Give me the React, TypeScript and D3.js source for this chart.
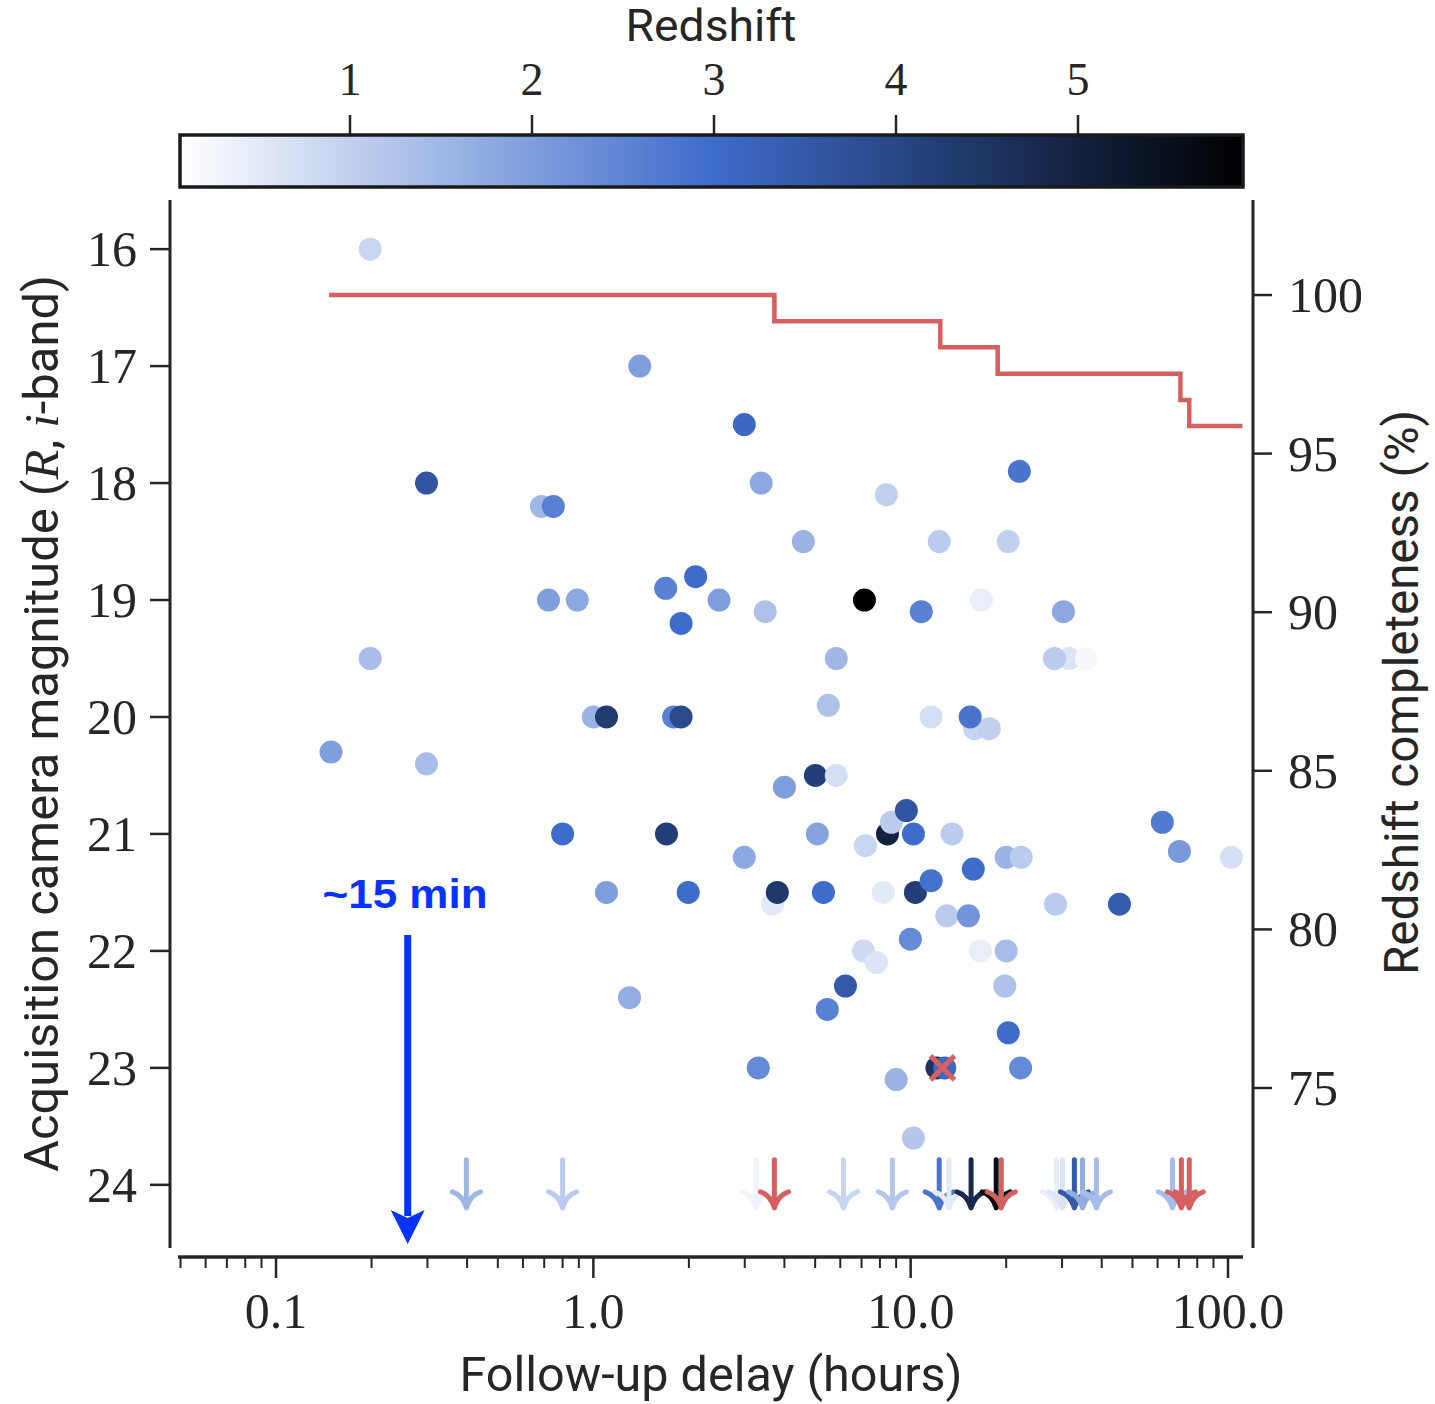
import React from "react";
import * as d3 from "d3";

const W = 1435;
const H = 1404;

// ---- detections: follow-up delay (h), acquisition magnitude, redshift ----
const delays = [
  0.198, 1.40, 2.99, 0.298, 0.686, 0.748, 3.38, 8.38, 22.0, 4.59, 12.3, 20.3,
  0.722, 0.89, 1.69, 2.10, 2.49, 1.89, 3.48, 7.15, 10.8, 16.7, 30.3,
  0.198, 5.83, 31.6, 35.8, 28.4, 5.5,
  1.0, 1.10, 1.79, 1.89, 11.6, 15.9, 17.7, 15.4,
  0.149, 0.298, 5.01, 5.83, 4.0,
  8.45, 8.7, 9.69, 10.2, 0.80, 1.70, 5.08, 13.5, 62.1, 70.3, 102.5,
  2.99, 7.2, 20.0, 22.3,
  1.10, 1.99, 3.67, 3.80, 5.31, 8.2, 10.35, 11.6, 15.75, 28.6, 45.5, 13.0, 15.2,
  9.98, 7.1, 7.8, 16.6, 20.0, 19.8, 6.23, 5.46, 1.30, 20.3,
  3.31, 12.1, 12.8, 22.2, 9.0, 10.2,
];
const mags = [
  16.0, 17.0, 17.5, 18.0, 18.2, 18.2, 18.0, 18.1, 17.9, 18.5, 18.5, 18.5,
  19.0, 19.0, 18.9, 18.8, 19.0, 19.2, 19.1, 19.0, 19.1, 19.0, 19.1,
  19.5, 19.5, 19.5, 19.5, 19.5, 19.9,
  20.0, 20.0, 20.0, 20.0, 20.0, 20.1, 20.1, 20.0,
  20.3, 20.4, 20.5, 20.5, 20.6,
  21.0, 20.9, 20.8, 21.0, 21.0, 21.0, 21.0, 21.0, 20.9, 21.15, 21.2,
  21.2, 21.1, 21.2, 21.2,
  21.5, 21.5, 21.6, 21.5, 21.5, 21.5, 21.5, 21.4, 21.3, 21.6, 21.6, 21.7, 21.7,
  21.9, 22.0, 22.1, 22.0, 22.0, 22.3, 22.3, 22.5, 22.4, 22.7,
  23.0, 23.0, 23.0, 23.0, 23.1, 23.6,
];
const redshifts = [
  0.9, 2.0, 3.1, 3.6, 1.5, 2.6, 1.8, 1.0, 2.8, 1.6, 1.1, 1.0,
  2.0, 1.8, 2.6, 3.0, 2.0, 3.0, 1.3, 5.9, 2.6, 0.4, 1.8,
  1.4, 1.5, 0.6, 0.2, 1.1, 1.3,
  1.6, 4.3, 2.6, 3.9, 0.7, 0.9, 1.0, 2.8,
  2.0, 1.4, 4.2, 0.7, 2.0,
  5.0, 1.1, 3.6, 3.0, 3.0, 4.2, 1.9, 1.1, 2.7, 2.1, 0.7,
  1.8, 0.9, 1.6, 1.1,
  2.0, 3.0, 0.5, 4.4, 3.0, 0.5, 4.2, 2.9, 3.0, 1.1, 3.4, 1.1, 2.2,
  2.4, 0.8, 0.6, 0.4, 1.4, 1.3, 3.5, 2.6, 1.7, 3.0,
  2.4, 4.5, 3.1, 2.4, 1.6, 1.2,
];

// failed detection (red cross)
const failedDelays = [12.6];
const failedMags = [23.0];

// ---- upper limits (fainter than 24 mag) ----
const limitDelays = [
  0.398, 0.80, 3.26, 3.72, 6.14, 8.76, 12.3, 13.2, 15.5, 18.6, 19.3,
  28.8, 30.1, 32.8, 34.8, 38.5, 66.8, 71.3, 75.5,
];
const limitRedshifts = [
  1.5, 1.1, 0.3, 0, 0.9, 1.2, 2.8, 0.5, 4.8, 5.6, 0,
  0.4, 0.6, 3.5, 1.7, 1.4, 1.4, 0, 0,
];
const limitFailed = [
  false, false, false, true, false, false, false, false, false, false, true,
  false, false, false, false, false, false, true, true,
];
const limitMag = 24;

// ---- redshift completeness step line ----
const stepDelays = [0.147, 3.72, 12.4, 18.8, 70.8, 75.5, 111];
const stepCompleteness = [100, 99.17, 98.35, 97.52, 96.69, 95.87, 95.87];

// ---- ticks ----
const xTicks = [0.1, 1, 10, 100];
const xTickLabels = ["0.1", "1.0", "10.0", "100.0"];
const yTicks = [16, 17, 18, 19, 20, 21, 22, 23, 24];
const rightTicks = [100, 95, 90, 85, 80, 75];
const cbTicks = [1, 2, 3, 4, 5];
const zDomain = [0.066, 5.91];

const annotationDelay = 0.26;

const INK = "#262626";
const RED = "#d65f5f";
const BLUE = "#0433ff";
const SERIF = "'Liberation Serif', 'DejaVu Serif', serif";
const SANS = "Roboto, 'Liberation Sans', sans-serif";

export default function App() {
  const x = d3.scaleLog().domain([0.0491, 111.5]).range([178, 1243]);
  const y = d3.scaleLinear().domain([15.58, 24.54]).range([200, 1248]);
  const yR = d3.scaleLinear().domain([100, 75]).range([295, 1088]);
  const cx = d3.scaleLinear().domain([1, 5]).range([350, 1078]);
  const color = d3
    .scaleLinear<string>()
    .domain([zDomain[0], (zDomain[0] + zDomain[1]) / 2, zDomain[1]])
    .range(["#ffffff", "#3e6ccc", "#000000"])
    .interpolate(d3.interpolateRgb)
    .clamp(true);

  const cbRight = 1243;
  const cbScale = d3.scaleLinear().domain(zDomain).range([180, cbRight]);

  const minorTicks: number[] = [];
  for (let e = -2; e <= 2; e++) {
    for (let m = 2; m <= 9; m++) {
      const v = m * Math.pow(10, e);
      if (v >= 0.0491 && v <= 111.5) minorTicks.push(v);
    }
  }

  const stepData = stepDelays.map((d, i) => [d, stepCompleteness[i]] as [number, number]);
  const stepLine = d3
    .line<[number, number]>()
    .x((d) => x(d[0]))
    .y((d) => yR(d[1]))
    .curve(d3.curveStepAfter)(stepData);

  const gradStops = d3.range(0, 1.0001, 0.05).map((t) => ({
    t,
    c: color(zDomain[0] + t * (zDomain[1] - zDomain[0])),
  }));

  const arrowPath = (px: number, py: number) =>
    `M${px},${py - 25} L${px},${py + 22} M${px - 14},${py + 7} Q${px - 4},${py + 10} ${px},${py + 23} M${px + 14},${py + 7} Q${px + 4},${py + 10} ${px},${py + 23}`;

  const ax = x(annotationDelay);

  return (
    <svg width={W} height={H} style={{ display: "block", position: "absolute", left: 0, top: 0, background: "#fff" }}>
      <defs>
        <linearGradient id="cbgrad" x1="0" x2="1" y1="0" y2="0">
          {gradStops.map((s, i) => (
            <stop key={i} offset={s.t} stopColor={s.c} />
          ))}
        </linearGradient>
      </defs>
      <rect x={0} y={0} width={W} height={H} fill="#fff" />

      {/* Colorbar */}
      <text x={711} y={41} textAnchor="middle" fontFamily={SANS} fontSize={44} fill={INK} textLength={171} lengthAdjust="spacingAndGlyphs">
        Redshift
      </text>
      {cbTicks.map((t) => (
        <g key={t}>
          <line x1={cx(t)} x2={cx(t)} y1={115} y2={135} stroke={INK} strokeWidth={2.5} />
          <text x={cx(t)} y={95} textAnchor="middle" fontFamily={SERIF} fontSize={46} fill={INK}>
            {t}
          </text>
        </g>
      ))}
      <rect x={cbScale(zDomain[0])} y={135} width={cbRight - 180} height={52} fill="url(#cbgrad)" stroke="#1a1a1a" strokeWidth={3.5} />

      {/* Spines */}
      <line x1={170} x2={170} y1={200} y2={1248} stroke={INK} strokeWidth={3} />
      <line x1={1253} x2={1253} y1={200} y2={1248} stroke={INK} strokeWidth={3} />
      <line x1={178} x2={1243} y1={1257} y2={1257} stroke={INK} strokeWidth={3.5} />

      {/* Left axis */}
      {yTicks.map((t) => (
        <g key={t}>
          <line x1={150} x2={170} y1={y(t)} y2={y(t)} stroke={INK} strokeWidth={2.5} />
          <text x={137} y={y(t) + 17} textAnchor="end" fontFamily={SERIF} fontSize={50} fill={INK}>
            {t}
          </text>
        </g>
      ))}
      <text
        transform={`translate(58, ${(275 + 1172) / 2}) rotate(-90)`}
        textAnchor="middle"
        fontFamily={SANS}
        fontSize={48}
        fill={INK}
        textLength={897}
        lengthAdjust="spacingAndGlyphs"
      >
        Acquisition camera magnitude (<tspan fontFamily={SERIF} fontStyle="italic">R</tspan>, <tspan fontFamily={SERIF} fontStyle="italic">i</tspan>-band)
      </text>

      {/* Right axis */}
      {rightTicks.map((t) => (
        <g key={t}>
          <line x1={1253} x2={1272} y1={yR(t)} y2={yR(t)} stroke={INK} strokeWidth={2.5} />
          <text x={1288} y={yR(t) + 17} textAnchor="start" fontFamily={SERIF} fontSize={50} fill={INK}>
            {t}
          </text>
        </g>
      ))}
      <text
        transform={`translate(1418, ${(410 + 975) / 2}) rotate(-90)`}
        textAnchor="middle"
        fontFamily={SANS}
        fontSize={48}
        fill={INK}
        textLength={565}
        lengthAdjust="spacingAndGlyphs"
      >
        Redshift completeness (%)
      </text>

      {/* Bottom axis */}
      {minorTicks.map((t, i) => (
        <line key={"m" + i} x1={x(t)} x2={x(t)} y1={1257} y2={1268} stroke={INK} strokeWidth={2} />
      ))}
      {xTicks.map((t, i) => (
        <g key={t}>
          <line x1={x(t)} x2={x(t)} y1={1257} y2={1278} stroke={INK} strokeWidth={2.5} />
          <text x={x(t)} y={1328} textAnchor="middle" fontFamily={SERIF} fontSize={50} fill={INK}>
            {xTickLabels[i]}
          </text>
        </g>
      ))}
      <text x={711} y={1391} textAnchor="middle" fontFamily={SANS} fontSize={48} fill={INK} textLength={503} lengthAdjust="spacingAndGlyphs">
        Follow-up delay (hours)
      </text>

      {/* Completeness step line */}
      <path d={stepLine || ""} fill="none" stroke={RED} strokeWidth={4.5} strokeLinejoin="miter" />

      {/* Detections */}
      {delays.map((d, i) => (
        <circle key={"p" + i} cx={x(d)} cy={y(mags[i])} r={11.5} fill={color(redshifts[i])} />
      ))}

      {/* Failed detection cross */}
      {failedDelays.map((d, i) => {
        const px = x(d);
        const py = y(failedMags[i]);
        return (
          <g key={"f" + i} stroke={RED} strokeWidth={5} strokeLinecap="butt">
            <line x1={px - 12} y1={py - 12} x2={px + 12} y2={py + 12} />
            <line x1={px - 12} y1={py + 12} x2={px + 12} y2={py - 12} />
          </g>
        );
      })}

      {/* Upper limits */}
      {limitDelays.map((d, i) => (
        <path
          key={"a" + i}
          d={arrowPath(x(d), y(limitMag))}
          fill="none"
          stroke={limitFailed[i] ? RED : color(limitRedshifts[i])}
          strokeWidth={5}
          strokeLinecap="round"
        />
      ))}

      {/* ~15 min annotation */}
      <text x={405} y={908} textAnchor="middle" fontFamily="'Liberation Sans', Arial, sans-serif" fontWeight="bold" fontSize={40} fill={BLUE} textLength={165} lengthAdjust="spacingAndGlyphs">
        ~15 min
      </text>
      <line x1={ax} x2={ax} y1={935} y2={1216} stroke={BLUE} strokeWidth={7} />
      <path d={`M${ax - 17},${1210} L${ax},${1244} L${ax + 17},${1210} L${ax},${1218} Z`} fill={BLUE} />
    </svg>
  );
}
